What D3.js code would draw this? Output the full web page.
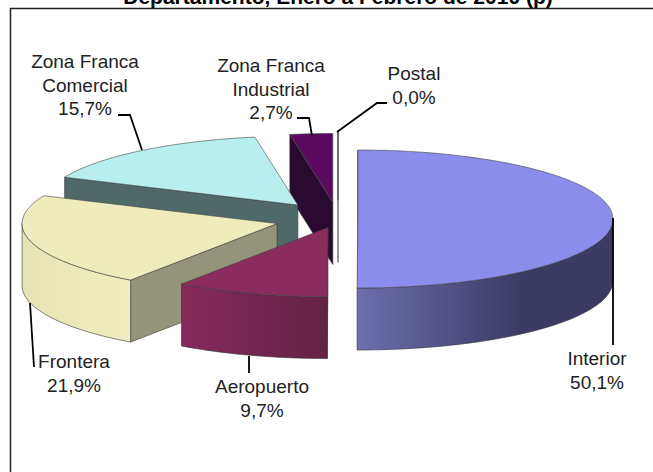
<!DOCTYPE html>
<html>
<head>
<meta charset="utf-8">
<script src="https://cdn.jsdelivr.net/npm/d3@7/dist/d3.min.js"></script>
<style>
  html, body { margin: 0; padding: 0; background: #fff; }
  text { font-family: "Liberation Sans", Arial, sans-serif; fill: #222; }
</style>
</head>
<body>
<svg id="chart" width="653" height="472" style="display:block"></svg>
<script>
// values, comma decimals kept for the labels
var categories = ["Interior", "Aeropuerto", "Frontera", "Zona Franca Comercial", "Zona Franca Industrial", "Postal"]
var values = [50.1, 9.7, 21.9, 15.7, 2.7, 0.0]
var labelLines = [["Interior"], ["Aeropuerto"], ["Frontera"], ["Zona Franca", "Comercial"], ["Zona Franca", "Industrial"], ["Postal"]]

// how far each slice is pulled out, fraction of the radius
var explode = [0.078, 0.13, 0.248, 0.256, 0.24, 0.27]

var topColors = ["#8c8cec", "#8a2c5c", "#eeecbc", "#b9eeee", "#5c0a60", "#ffffff"]
var startFaceColors = ["#5a5a96", "#5a1f40", "#94947a", "#4f6868", "#2a0a30", "#ffffff"]
var sideLight = ["#6e6eb0", "#85295a", "#e6e4b4", "#b9eeee", "#5c0a60", "#ffffff"]
var sideDark = ["#3a3a62", "#642345", "#f0eec0", "#b9eeee", "#5c0a60", "#ffffff"]

var cx = 338, cy = 219, rx = 255, ry = 69, depth = 62
var drawOrder = [4, 5, 3, 2, 0, 1]

var svg = d3.select("#chart")
var defs = svg.append("defs")

// frame: only left and top are visible in the picture
svg.append("path")
  .attr("d", "M10.5,472V8.5H653")
  .attr("fill", "none")
  .attr("stroke", "#222")
  .attr("stroke-width", 1.5)

// the reference crops this title at the top edge, so it sits just as high
svg.append("text")
  .attr("x", 338)
  .attr("y", 4)
  .attr("text-anchor", "middle")
  .style("font-size", "21px")
  .style("font-weight", "bold")
  .style("fill", "#000")
  .text("Departamento, Enero a Febrero de 2010 (p)")

var arcs = d3.pie().sort(null).value(function(d) { return d })(values)

// point on the tilted ellipse, angle clockwise from 12 o'clock
function rim(a, ox, oy, dz) {
  return [ox + rx * Math.sin(a), oy - ry * Math.cos(a) + dz]
}
function arcPoints(a0, a1, ox, oy, dz) {
  var n = Math.max(2, Math.ceil((a1 - a0) * 40)), pts = []
  for (var i = 0; i <= n; i++) pts.push(rim(a0 + (a1 - a0) * i / n, ox, oy, dz))
  return pts
}
var line = d3.line()

var g = svg.append("g")

drawOrder.forEach(function(i) {
  var d = arcs[i]
  var mid = (d.startAngle + d.endAngle) / 2
  var ox = cx + explode[i] * rx * Math.sin(mid)
  var oy = cy - explode[i] * ry * Math.cos(mid)

  // radial face on the start side
  var s = rim(d.startAngle, ox, oy, 0)
  g.append("path")
    .attr("d", line([s, [ox, oy], [ox, oy + depth], [s[0], s[1] + depth]]) + "Z")
    .attr("fill", startFaceColors[i])
    .attr("stroke", "#333")
    .attr("stroke-width", 0.6)

  // curved outer wall, only the front half of the pie shows it
  var a0 = Math.max(d.startAngle, Math.PI / 2)
  var a1 = Math.min(d.endAngle, Math.PI * 1.5)
  if (a1 > a0) {
    var gradId = "side" + i
    var top = arcPoints(a0, a1, ox, oy, 0)
    var bottom = arcPoints(a0, a1, ox, oy, depth).reverse()
    var xs = top.map(function(p) { return p[0] })
    var grad = defs.append("linearGradient")
      .attr("id", gradId)
      .attr("gradientUnits", "userSpaceOnUse")
      .attr("x1", d3.min(xs)).attr("x2", d3.max(xs))
      .attr("y1", 0).attr("y2", 0)
    grad.append("stop").attr("offset", 0).attr("stop-color", sideLight[i])
    grad.append("stop").attr("offset", i === 0 ? 0.65 : 1).attr("stop-color", sideDark[i])
    g.append("path")
      .attr("d", line(top.concat(bottom)) + "Z")
      .attr("fill", "url(#" + gradId + ")")
      .attr("stroke", "#333")
      .attr("stroke-width", 0.6)
  }

  // top face
  var pts = [[ox, oy]].concat(arcPoints(d.startAngle, d.endAngle, ox, oy, 0))
  g.append("path")
    .attr("d", line(pts) + "Z")
    .attr("fill", topColors[i])
    .attr("stroke", "#444")
    .attr("stroke-width", 0.6)
})

// label blocks and their leader lines, in the order of categories
var labelPos = [[597, 365], [262, 393], [74, 368], [85, 68], [271, 72], [414, 80]]
var leaders = [
  [[613, 218], [613, 345]],
  [[249, 356], [249, 373]],
  [[30, 303], [34, 367]],
  [[118, 115], [130, 115], [142, 150]],
  [[297, 118], [309, 118], [312, 136]],
  [[387, 103], [377, 103], [337, 132]]
]

leaders.forEach(function(l) {
  svg.append("path")
    .attr("d", line(l))
    .attr("fill", "none")
    .attr("stroke", "#000")
    .attr("stroke-width", 1.8)
})

categories.forEach(function(c, i) {
  var rows = labelLines[i].concat([String(values[i].toFixed(1)).replace(".", ",") + "%"])
  var t = svg.append("text")
    .attr("text-anchor", "middle")
    .style("font-size", "19px")
  rows.forEach(function(r, k) {
    t.append("tspan")
      .attr("x", labelPos[i][0])
      .attr("y", labelPos[i][1] + k * 23.5)
      .text(r)
  })
})
</script>
</body>
</html>
